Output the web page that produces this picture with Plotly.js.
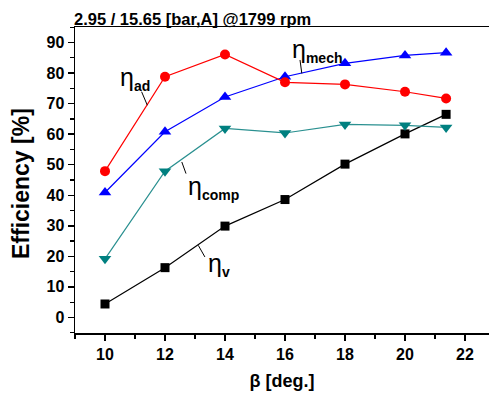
<!DOCTYPE html>
<html><head><meta charset="utf-8">
<script src="https://cdn.plot.ly/plotly-3.0.1.min.js"></script>
<style>html,body{margin:0;padding:0;background:#fff}#g{width:489px;height:397px}</style>
</head><body><div id="g"></div>
<script>
var beta = [10, 12, 14, 16, 18, 20, 21.37];
var etaAd = [47.9, 78.8, 86.1, 77.0, 76.3, 73.9, 71.7];
var etaMech = [40.9, 60.8, 72.2, 78.8, 83.2, 85.8, 86.7];
var etaComp = [19.2, 47.9, 61.9, 60.4, 63.2, 62.9, 62.2];
var etaV = [4.4, 16.3, 29.9, 38.6, 50.2, 60.1, 66.5];

var subs = ['ad', 'mech', 'comp', 'v'];
var labelPos = [[10.43, 78.4], [16.17, 87.5], [12.7, 42.6], [13.37, 17.4]];
var leaders = [[11.22, 73.9, 11.41, 69.5], [16.5, 84.3, 16.56, 79.9], [12.56, 50.9, 12.7, 47.1], [13.11, 23.6, 13.33, 19.8]];

function tr(y, color, lineColor, symbol, size) {
  return {x: beta, y: y, mode: 'lines+markers', type: 'scatter',
    line: {color: lineColor, width: 1.2},
    marker: {color: color, symbol: symbol, size: size}};
}
var data = [
  tr(etaV, '#000000', '#000000', 'square', 9),
  tr(etaComp, '#008080', '#2a9090', 'triangle-down', 11),
  tr(etaMech, '#0000ff', '#0000ff', 'triangle-up', 11),
  tr(etaAd, '#ff0000', '#ff0000', 'circle', 10)
];

var fontFam = 'Arial, "Liberation Sans", sans-serif';
var annotations = subs.map(function(s, i){
  return {x: labelPos[i][0], y: labelPos[i][1], xref: 'x', yref: 'y',
    text: 'η<sub><span style="font-size:14px;font-weight:bold">' + s + '</span></sub>',
    showarrow: false, xanchor: 'left', yanchor: 'middle', font: {family: fontFam, size: 25, color: '#000'}};
});
annotations.push({xref: 'paper', yref: 'paper', x: -75/414 + 21/414, y: (333 - 184) / 306,
  text: '<b>Efficiency [%]</b>', textangle: -90, showarrow: false, xanchor: 'center', yanchor: 'middle',
  font: {family: fontFam, size: 23, color: '#000'}});
var shapes = leaders.map(function(l){
  return {type: 'line', xref: 'x', yref: 'y', x0: l[0], y0: l[1], x1: l[2], y1: l[3], line: {color: '#000', width: 1}};
});

var layout = {
  width: 489, height: 397,
  margin: {l: 75, r: 0, t: 27, b: 64},
  paper_bgcolor: '#fff', plot_bgcolor: '#fff',
  showlegend: false,
  font: {family: fontFam, color: '#000'},
  title: {text: '<b>2.95 / 15.65 [bar,A] @1799 rpm</b>', x: 74/489, xanchor: 'left', xref: 'container',
    y: 1 - 19/397, yanchor: 'middle', yref: 'container', font: {family: fontFam, size: 16.5, color: '#000'}},
  xaxis: {range: [9, 22.8], tickvals: [10, 12, 14, 16, 18, 20, 22], ticktext: ['<b>10</b>','<b>12</b>','<b>14</b>','<b>16</b>','<b>18</b>','<b>20</b>','<b>22</b>'],
    ticks: 'outside', ticklen: 6, tickwidth: 1.5, tickcolor: '#000',
    minor: {dtick: 1, tick0: 0, ticks: 'outside', ticklen: 4, tickwidth: 1.2, tickcolor: '#000', showgrid: false},
    showgrid: false, zeroline: false, showline: true, linecolor: '#000', linewidth: 1.5, mirror: true,
    tickfont: {family: fontFam, size: 16, color: '#000'},
    title: {text: '<b>β [deg.]</b>', font: {family: fontFam, size: 18, color: '#000'}, standoff: 12}},
  yaxis: {range: [-5.1, 95.1], tickvals: [0,10,20,30,40,50,60,70,80,90],
    ticktext: ['<b>0</b>','<b>10</b>','<b>20</b>','<b>30</b>','<b>40</b>','<b>50</b>','<b>60</b>','<b>70</b>','<b>80</b>','<b>90</b>'],
    ticks: 'outside', ticklen: 6, tickwidth: 1.5, tickcolor: '#000',
    minor: {dtick: 5, tick0: 0, ticks: 'outside', ticklen: 4, tickwidth: 1.2, tickcolor: '#000', showgrid: false},
    showgrid: false, zeroline: false, showline: true, linecolor: '#000', linewidth: 1.5,
    tickfont: {family: fontFam, size: 16, color: '#000'}},
  annotations: annotations,
  shapes: shapes
};
Plotly.newPlot('g', data, layout, {displayModeBar: false, staticPlot: true});
</script></body></html>
